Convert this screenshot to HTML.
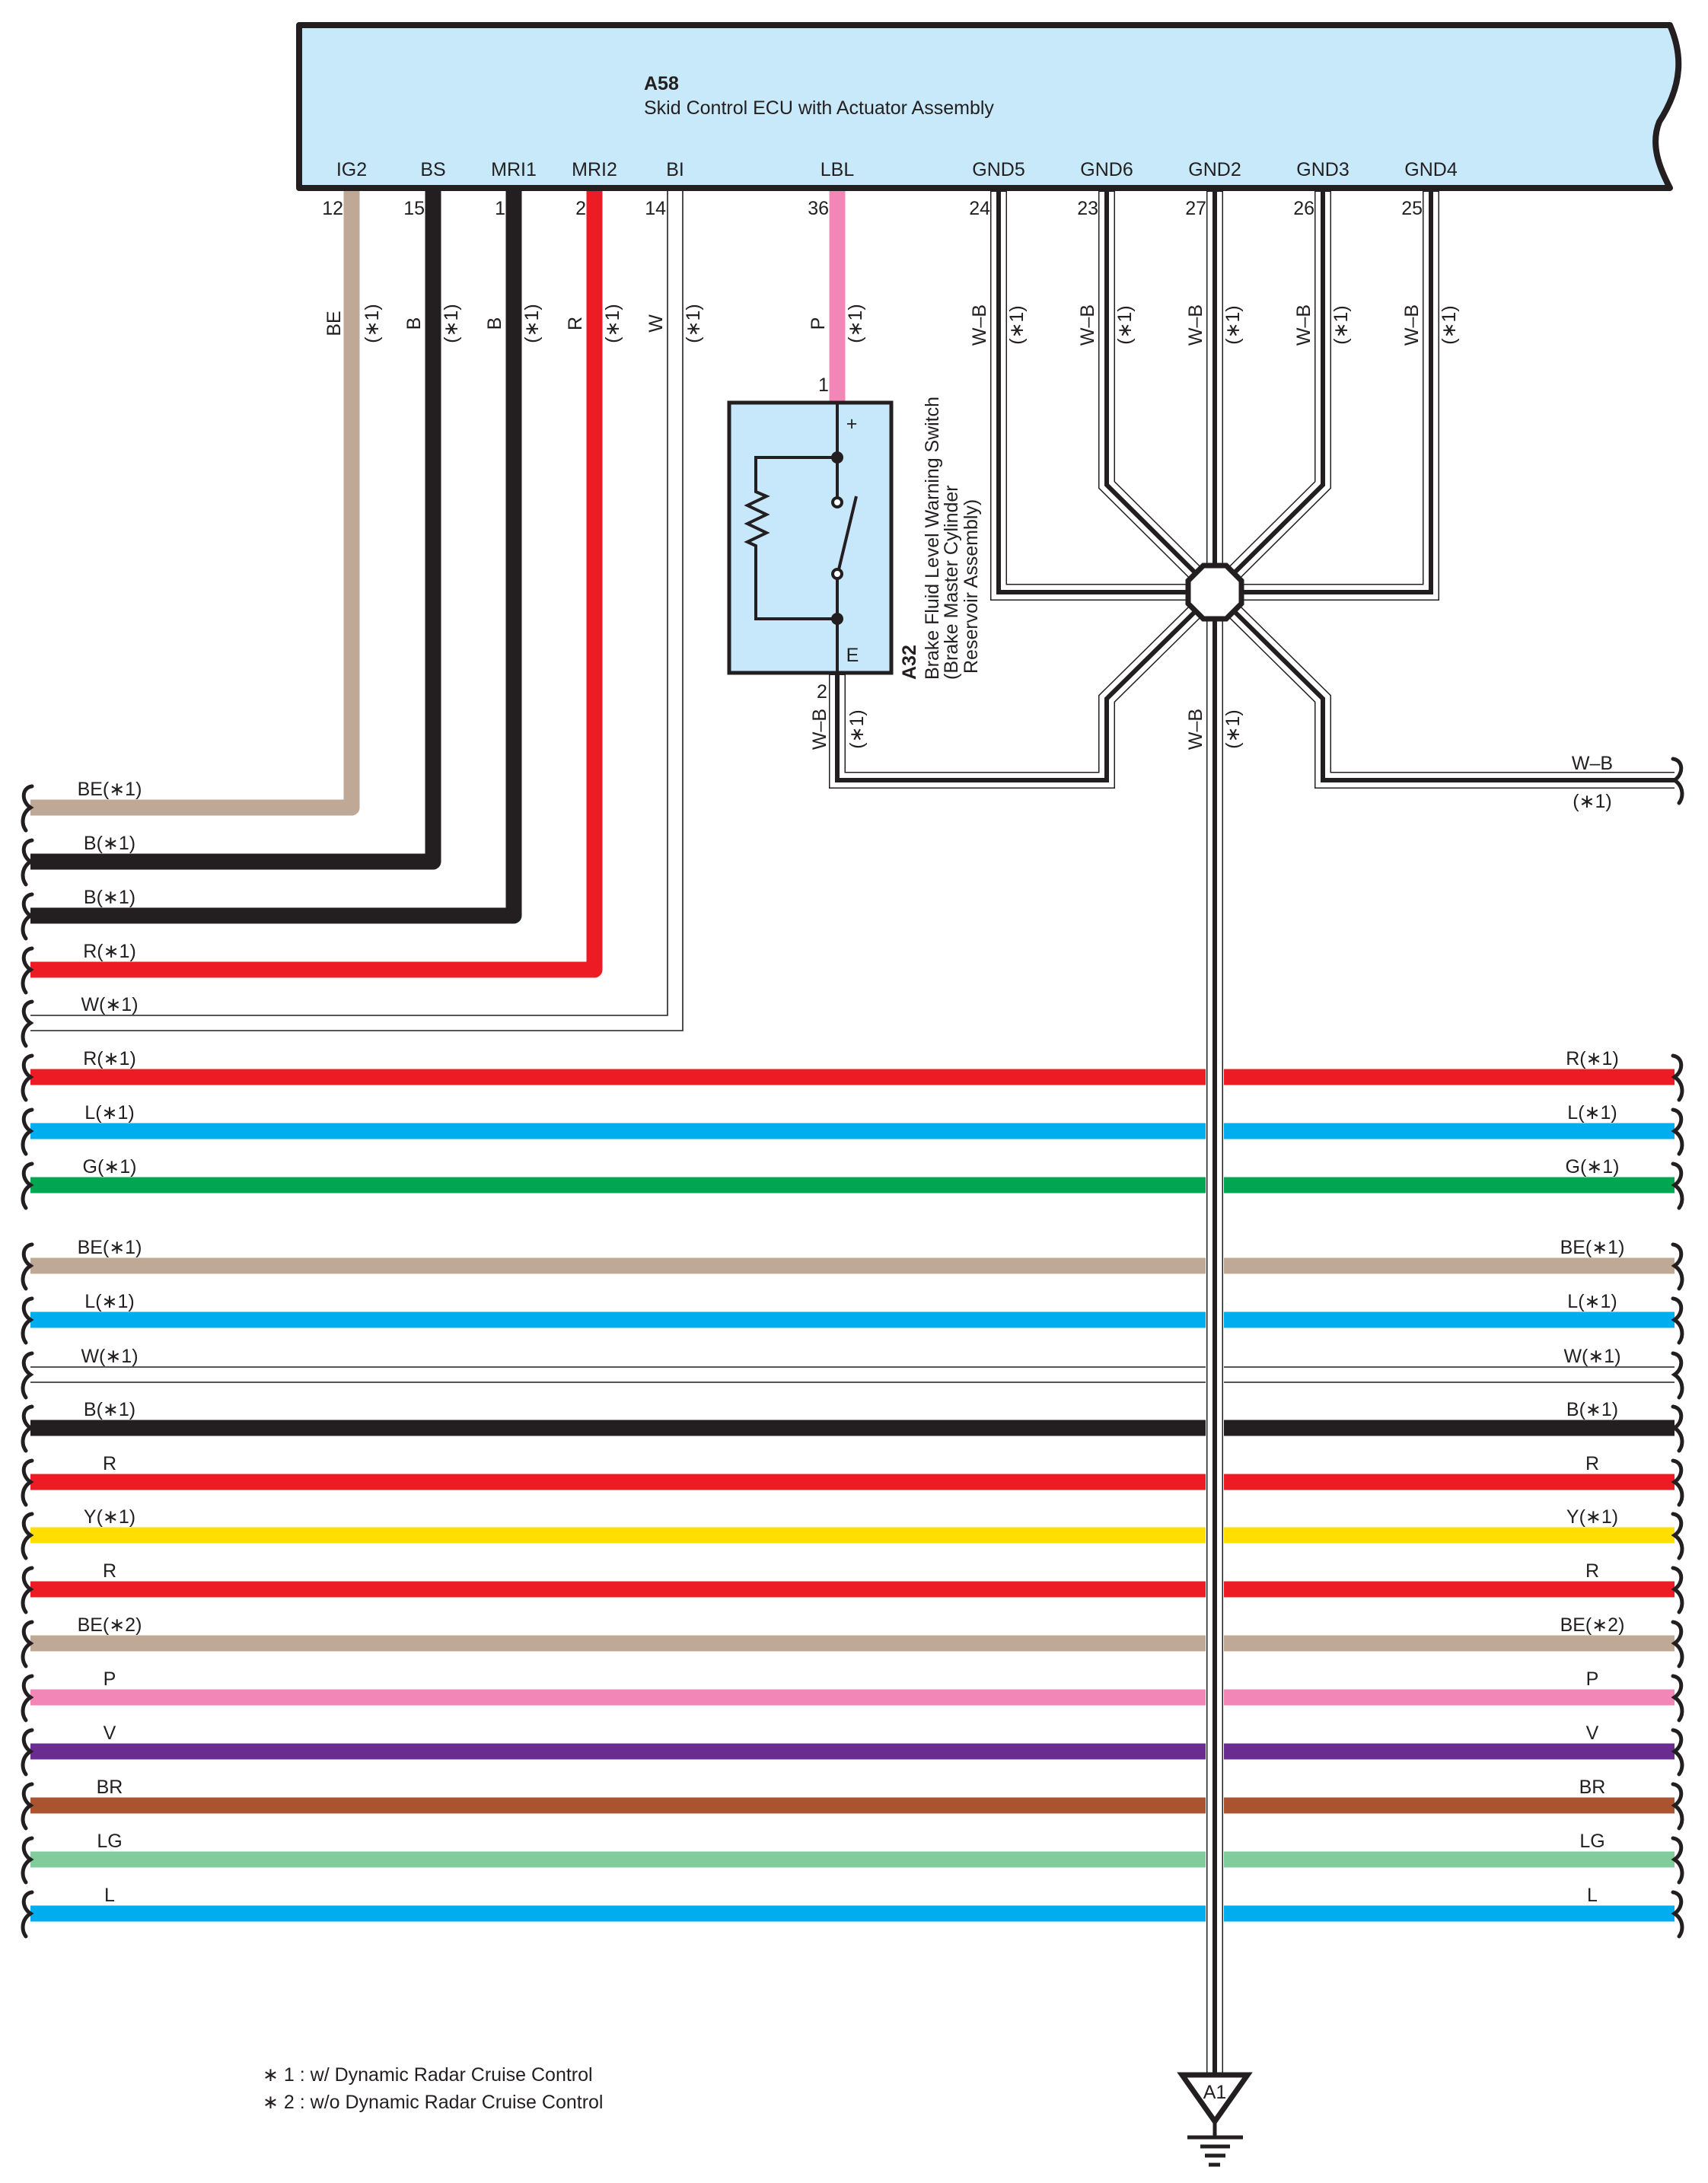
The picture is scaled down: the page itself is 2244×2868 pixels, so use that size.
<!DOCTYPE html>
<html><head><meta charset="utf-8"><style>
html,body{margin:0;padding:0;background:#fff;}
svg{display:block;}
text{font-family:"Liberation Sans",sans-serif;fill:#231f20;}
</style></head><body>
<svg xmlns="http://www.w3.org/2000/svg" width="2244" height="2868" viewBox="0 0 2244 2868">
<defs>
<path id="brL" d="M42 -28 C28 -26 28 -8 40 0 C28 8 28 22 34 30" fill="none" stroke="#231f20" stroke-width="5" stroke-linecap="round"/>
</defs>
<!-- ECU box -->
<path d="M393 33 L2194 33 C2210 70 2212 110 2180 160 C2168 190 2180 220 2194 247 L393 247 Z" fill="#c8e9fa" stroke="#231f20" stroke-width="8" stroke-linejoin="round"/>
<text x="846" y="118" font-size="25" font-weight="bold">A58</text>
<text x="846" y="150" font-size="25">Skid Control ECU with Actuator Assembly</text>
<g font-size="25" text-anchor="middle">
<text x="462" y="231">IG2</text><text x="569" y="231">BS</text><text x="675" y="231">MRI1</text><text x="781" y="231">MRI2</text><text x="887" y="231">BI</text><text x="1100" y="231">LBL</text>
<text x="1312" y="231">GND5</text><text x="1454" y="231">GND6</text><text x="1596" y="231">GND2</text><text x="1738" y="231">GND3</text><text x="1880" y="231">GND4</text>
</g>
<g font-size="25" text-anchor="end">
<text x="451" y="282">12</text><text x="558" y="282">15</text><text x="664" y="282">1</text><text x="770" y="282">2</text><text x="875" y="282">14</text><text x="1089" y="282">36</text>
<text x="1301" y="282">24</text><text x="1443" y="282">23</text><text x="1585" y="282">27</text><text x="1727" y="282">26</text><text x="1869" y="282">25</text>
</g>
<!-- top-left wires -->
<g fill="none" stroke-width="21" stroke-linejoin="round">
<path d="M462 251 V1061 H40" stroke="#bfa895"/>
<path d="M569 251 V1132 H40" stroke="#231f20"/>
<path d="M675 251 V1203 H40" stroke="#231f20"/>
<path d="M781 251 V1274 H40" stroke="#ed1c24"/>
<path d="M1100 251 V529" stroke="#f287b7"/>
</g>
<g fill="none" stroke="#231f20" stroke-width="1.6">
<path d="M877 251 V1334 H40"/><path d="M897 251 V1354 H40"/>
</g>
<!-- bus wires -->
<g stroke-width="21">
<line x1="40" y1="1415" x2="1584" y2="1415" stroke="#ed1c24"/><line x1="1608" y1="1415" x2="2200" y2="1415" stroke="#ed1c24"/>
<line x1="40" y1="1486" x2="1584" y2="1486" stroke="#00aeef"/><line x1="1608" y1="1486" x2="2200" y2="1486" stroke="#00aeef"/>
<line x1="40" y1="1557" x2="1584" y2="1557" stroke="#00a651"/><line x1="1608" y1="1557" x2="2200" y2="1557" stroke="#00a651"/>
<line x1="40" y1="1663" x2="1584" y2="1663" stroke="#bfa895"/><line x1="1608" y1="1663" x2="2200" y2="1663" stroke="#bfa895"/>
<line x1="40" y1="1734" x2="1584" y2="1734" stroke="#00aeef"/><line x1="1608" y1="1734" x2="2200" y2="1734" stroke="#00aeef"/>
<line x1="40" y1="1876" x2="1584" y2="1876" stroke="#231f20"/><line x1="1608" y1="1876" x2="2200" y2="1876" stroke="#231f20"/>
<line x1="40" y1="1947" x2="1584" y2="1947" stroke="#ed1c24"/><line x1="1608" y1="1947" x2="2200" y2="1947" stroke="#ed1c24"/>
<line x1="40" y1="2017" x2="1584" y2="2017" stroke="#ffde00"/><line x1="1608" y1="2017" x2="2200" y2="2017" stroke="#ffde00"/>
<line x1="40" y1="2088" x2="1584" y2="2088" stroke="#ed1c24"/><line x1="1608" y1="2088" x2="2200" y2="2088" stroke="#ed1c24"/>
<line x1="40" y1="2159" x2="1584" y2="2159" stroke="#bfa895"/><line x1="1608" y1="2159" x2="2200" y2="2159" stroke="#bfa895"/>
<line x1="40" y1="2230" x2="1584" y2="2230" stroke="#f287b7"/><line x1="1608" y1="2230" x2="2200" y2="2230" stroke="#f287b7"/>
<line x1="40" y1="2301" x2="1584" y2="2301" stroke="#6b2c91"/><line x1="1608" y1="2301" x2="2200" y2="2301" stroke="#6b2c91"/>
<line x1="40" y1="2372" x2="1584" y2="2372" stroke="#a9532f"/><line x1="1608" y1="2372" x2="2200" y2="2372" stroke="#a9532f"/>
<line x1="40" y1="2443" x2="1584" y2="2443" stroke="#80cc9c"/><line x1="1608" y1="2443" x2="2200" y2="2443" stroke="#80cc9c"/>
<line x1="40" y1="2514" x2="1584" y2="2514" stroke="#00aeef"/><line x1="1608" y1="2514" x2="2200" y2="2514" stroke="#00aeef"/>
</g>
<g stroke="#231f20" stroke-width="1.6">
<line x1="40" y1="1796" x2="1584" y2="1796"/><line x1="1608" y1="1796" x2="2200" y2="1796"/>
<line x1="40" y1="1816" x2="1584" y2="1816"/><line x1="1608" y1="1816" x2="2200" y2="1816"/>
</g>
<!-- W-B ground wires -->
<g fill="none" stroke-linejoin="miter">
<g stroke="#231f20" stroke-width="22">
<path d="M1312 251 V778 H1596"/><path d="M1880 251 V778 H1596"/>
<path d="M1454 251 V637 L1596 778"/><path d="M1738 251 V637 L1596 778"/>
<path d="M1596 251 V2725"/>
<path d="M1596 778 L1454 918 V1025 H1100 V884"/>
<path d="M1596 778 L1738 918 V1025 H2200"/>
</g>
<g stroke="#fff" stroke-width="19">
<path d="M1312 252 V778 H1596"/><path d="M1880 252 V778 H1596"/>
<path d="M1454 252 V637 L1596 778"/><path d="M1738 252 V637 L1596 778"/>
<path d="M1596 252 V2723"/>
<path d="M1596 778 L1454 918 V1025 H1100 V887"/>
<path d="M1596 778 L1738 918 V1025 H2205"/>
</g>
<g stroke="#231f20" stroke-width="6">
<path d="M1312 251 V778 H1596"/><path d="M1880 251 V778 H1596"/>
<path d="M1454 251 V637 L1596 778"/><path d="M1738 251 V637 L1596 778"/>
<path d="M1596 251 V2725"/>
<path d="M1596 778 L1454 918 V1025 H1100 V884"/>
<path d="M1596 778 L1738 918 V1025 H2200"/>
</g>
</g>
<!-- octagon -->
<polygon points="1581,743 1611,743 1631,763 1631,793 1611,813 1581,813 1561,793 1561,763" fill="#fff" stroke="#231f20" stroke-width="7"/>
<!-- A32 -->
<rect x="958" y="529" width="213" height="355" fill="#c7e8fa" stroke="#231f20" stroke-width="5"/>
<g fill="none" stroke="#231f20" stroke-width="4">
<line x1="1100" y1="529" x2="1100" y2="653"/>
<line x1="1100" y1="761" x2="1100" y2="884"/>
<path d="M1100 601 H993 V646 L1007 652 L982 664 L1007 676 L982 688 L1007 700 L982 712 L993 717 V813 H1100"/>
<line x1="1102" y1="748" x2="1125" y2="652"/>
<circle cx="1100" cy="660" r="6" fill="#fff"/>
<circle cx="1100" cy="754" r="6" fill="#fff"/>
</g>
<circle cx="1100" cy="601" r="8" fill="#231f20"/>
<circle cx="1100" cy="813" r="8" fill="#231f20"/>
<text x="1119" y="565" font-size="25" text-anchor="middle">+</text>
<text x="1120" y="869" font-size="25" text-anchor="middle">E</text>
<text x="1082" y="514" font-size="25" text-anchor="middle">1</text>
<text x="1080" y="917" font-size="25" text-anchor="middle">2</text>
<g transform="rotate(-90)" font-size="25">
<text x="-893" y="1203" font-weight="bold">A32</text>
<text x="-893" y="1233" textLength="372" lengthAdjust="spacingAndGlyphs">Brake Fluid Level Warning Switch</text>
<text x="-893" y="1258">(Brake Master Cylinder</text>
<text x="-885" y="1284">Reservoir Assembly)</text>
</g>
<!-- vertical wire labels -->
<g font-size="25" text-anchor="middle" dominant-baseline="central">
<text transform="translate(439,425) rotate(-90)">BE</text><text transform="translate(489,425) rotate(-90)">(∗1)</text>
<text transform="translate(544,425) rotate(-90)">B</text><text transform="translate(593,425) rotate(-90)">(∗1)</text>
<text transform="translate(650,425) rotate(-90)">B</text><text transform="translate(699,425) rotate(-90)">(∗1)</text>
<text transform="translate(756,425) rotate(-90)">R</text><text transform="translate(805,425) rotate(-90)">(∗1)</text>
<text transform="translate(862,425) rotate(-90)">W</text><text transform="translate(911,425) rotate(-90)">(∗1)</text>
<text transform="translate(1075,425) rotate(-90)">P</text><text transform="translate(1124,425) rotate(-90)">(∗1)</text>
<text transform="translate(1287,427) rotate(-90)">W–B</text><text transform="translate(1336,427) rotate(-90)">(∗1)</text>
<text transform="translate(1429,427) rotate(-90)">W–B</text><text transform="translate(1478,427) rotate(-90)">(∗1)</text>
<text transform="translate(1571,427) rotate(-90)">W–B</text><text transform="translate(1620,427) rotate(-90)">(∗1)</text>
<text transform="translate(1713,427) rotate(-90)">W–B</text><text transform="translate(1762,427) rotate(-90)">(∗1)</text>
<text transform="translate(1855,427) rotate(-90)">W–B</text><text transform="translate(1904,427) rotate(-90)">(∗1)</text>
<text transform="translate(1077,958) rotate(-90)">W–B</text><text transform="translate(1126,958) rotate(-90)">(∗1)</text>
<text transform="translate(1571,958) rotate(-90)">W–B</text><text transform="translate(1620,958) rotate(-90)">(∗1)</text>
</g>
<text x="2092" y="1011" font-size="25" text-anchor="middle">W–B</text>
<text x="2092" y="1061" font-size="25" text-anchor="middle">(∗1)</text>
<!-- left labels -->
<g font-size="25" text-anchor="middle">
<text x="144" y="1045">BE(∗1)</text><text x="144" y="1116">B(∗1)</text><text x="144" y="1187">B(∗1)</text><text x="144" y="1258">R(∗1)</text><text x="144" y="1328">W(∗1)</text>
<text x="144" y="1399">R(∗1)</text><text x="144" y="1470">L(∗1)</text><text x="144" y="1541">G(∗1)</text>
<text x="144" y="1647">BE(∗1)</text><text x="144" y="1718">L(∗1)</text><text x="144" y="1790">W(∗1)</text><text x="144" y="1860">B(∗1)</text>
<text x="144" y="1931">R</text><text x="144" y="2001">Y(∗1)</text><text x="144" y="2072">R</text><text x="144" y="2143">BE(∗2)</text>
<text x="144" y="2214">P</text><text x="144" y="2285">V</text><text x="144" y="2356">BR</text><text x="144" y="2427">LG</text><text x="144" y="2498">L</text>
</g>
<g font-size="25" text-anchor="middle">
<text x="2092" y="1399">R(∗1)</text><text x="2092" y="1470">L(∗1)</text><text x="2092" y="1541">G(∗1)</text>
<text x="2092" y="1647">BE(∗1)</text><text x="2092" y="1718">L(∗1)</text><text x="2092" y="1790">W(∗1)</text><text x="2092" y="1860">B(∗1)</text>
<text x="2092" y="1931">R</text><text x="2092" y="2001">Y(∗1)</text><text x="2092" y="2072">R</text><text x="2092" y="2143">BE(∗2)</text>
<text x="2092" y="2214">P</text><text x="2092" y="2285">V</text><text x="2092" y="2356">BR</text><text x="2092" y="2427">LG</text><text x="2092" y="2498">L</text>
</g>
<!-- braces left -->
<g>
<use href="#brL" y="1061"/><use href="#brL" y="1132"/><use href="#brL" y="1203"/><use href="#brL" y="1274"/><use href="#brL" y="1344"/>
<use href="#brL" y="1415"/><use href="#brL" y="1486"/><use href="#brL" y="1557"/>
<use href="#brL" y="1663"/><use href="#brL" y="1734"/><use href="#brL" y="1806"/><use href="#brL" y="1876"/>
<use href="#brL" y="1947"/><use href="#brL" y="2017"/><use href="#brL" y="2088"/><use href="#brL" y="2159"/>
<use href="#brL" y="2230"/><use href="#brL" y="2301"/><use href="#brL" y="2372"/><use href="#brL" y="2443"/><use href="#brL" y="2514"/>
</g>
<!-- braces right (mirrored) -->
<g transform="translate(2240,0) scale(-1,1)">
<use href="#brL" y="1025"/>
<use href="#brL" y="1415"/><use href="#brL" y="1486"/><use href="#brL" y="1557"/>
<use href="#brL" y="1663"/><use href="#brL" y="1734"/><use href="#brL" y="1806"/><use href="#brL" y="1876"/>
<use href="#brL" y="1947"/><use href="#brL" y="2017"/><use href="#brL" y="2088"/><use href="#brL" y="2159"/>
<use href="#brL" y="2230"/><use href="#brL" y="2301"/><use href="#brL" y="2372"/><use href="#brL" y="2443"/><use href="#brL" y="2514"/>
</g>
<!-- ground symbol -->
<polygon points="1553,2726 1639,2726 1596,2787" fill="#fff" stroke="#231f20" stroke-width="7" stroke-linejoin="miter"/>
<text x="1596" y="2757" font-size="25" text-anchor="middle">A1</text>
<g stroke="#231f20" stroke-width="5">
<line x1="1596" y1="2787" x2="1596" y2="2808"/>
<line x1="1560" y1="2808" x2="1633" y2="2808"/>
<line x1="1577" y1="2820" x2="1616" y2="2820"/>
<line x1="1583" y1="2832" x2="1610" y2="2832"/>
<line x1="1588" y1="2844" x2="1603" y2="2844"/>
</g>
<!-- footnotes -->
<text x="345" y="2734" font-size="25">∗ 1 : w/ Dynamic Radar Cruise Control</text>
<text x="345" y="2770" font-size="25">∗ 2 : w/o Dynamic Radar Cruise Control</text>
</svg>
</body></html>
